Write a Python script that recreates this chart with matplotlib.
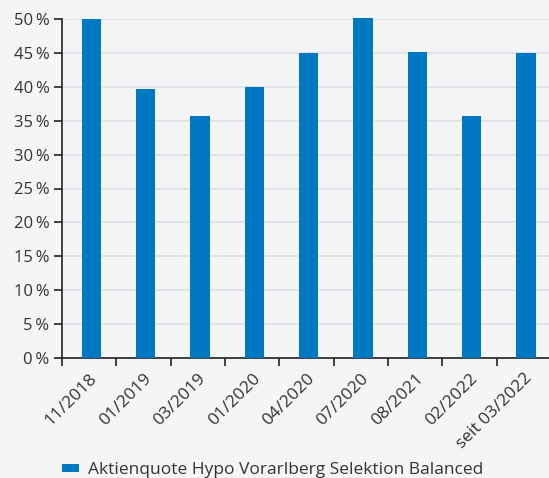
import matplotlib.pyplot as plt
from matplotlib.ticker import MultipleLocator, FuncFormatter

categories = ['11/2018', '01/2019', '03/2019', '01/2020', '04/2020',
              '07/2020', '08/2021', '02/2022', 'seit 03/2022']
values = [50.0, 39.7, 35.7, 40.0, 45.0, 50.2, 45.1, 35.7, 45.0]
series_name = 'Aktienquote Hypo Vorarlberg Selektion Balanced'

bg = '#f4f5f7'
bar_color = '#0079c2'
text_color = '#333333'

plt.rcParams['font.family'] = ['Open Sans', 'DejaVu Sans']

fig = plt.figure(figsize=(5.49, 4.78), dpi=100, facecolor=bg)
ax = fig.add_axes([62 / 549, 120 / 478, 489 / 549, 339 / 478])
ax.set_facecolor(bg)

x = list(range(len(categories)))
# bars sit a touch right of the category centre in the original
ax.bar([i + 0.04 for i in x], values, width=0.35, color=bar_color, zorder=3,
       clip_on=False, label=series_name)

ax.set_xlim(-0.5, len(categories) - 0.5)
ax.set_ylim(0, 50)
ax.yaxis.set_major_locator(MultipleLocator(5))
ax.yaxis.set_major_formatter(FuncFormatter(lambda v, p: '%d\u2009%%' % v))
ax.grid(axis='y', color='#dfe0e4', linewidth=1.2, zorder=0)

# category labels under the bars, tick marks on the boundaries
ax.set_xticks(x)
ax.set_xticklabels(categories, rotation=45, ha='right', rotation_mode='anchor')
ax.set_xticks([i - 0.5 for i in range(len(categories) + 1)], minor=True)
ax.tick_params(axis='x', which='major', length=0, pad=9, labelsize=12.5,
               labelcolor=text_color)
ax.tick_params(axis='x', which='minor', length=6, width=1.2, color='#222222')
ax.tick_params(axis='y', length=6, width=1.2, color='#222222', labelsize=12,
               labelcolor=text_color, pad=3)

for s in ['top', 'right']:
    ax.spines[s].set_visible(False)
for s in ['left', 'bottom']:
    ax.spines[s].set_color('#222222')
    ax.spines[s].set_linewidth(1.2)

leg = fig.legend(loc='lower left', bbox_to_anchor=(46 / 549, -16 / 478),
                 frameon=False, fontsize=12.5, handlelength=1.0, handleheight=0.3,
                 handletextpad=0.5)
for t in leg.get_texts():
    t.set_color(text_color)

plt.savefig('out.png', dpi=100, facecolor=bg)
